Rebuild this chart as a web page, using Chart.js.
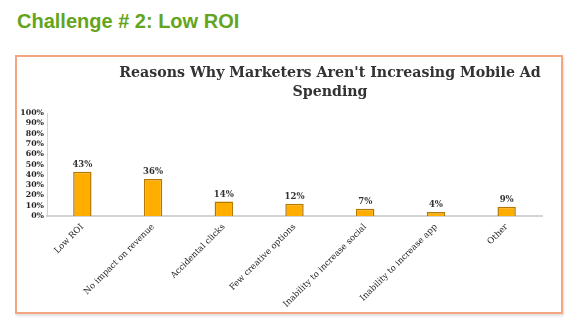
<!DOCTYPE html>
<html>
<head>
<meta charset="utf-8">
<script src="https://cdn.jsdelivr.net/npm/chart.js@4"></script>
<style>
  body { margin: 0; background: #fff; width: 580px; height: 331px; position: relative; overflow: hidden; }
  h1 {
    position: absolute; left: 17px; top: 10px; margin: 0;
    font: bold 20px "Liberation Sans", Arial, sans-serif; color: #63a51c;
  }
  .frame {
    position: absolute; left: 15px; top: 55px; width: 548px; height: 259px;
    box-sizing: border-box; border: 2px solid #f4a582;
    box-shadow: 1px 2px 2px rgba(0,0,0,0.12); background: #fff;
  }
  .frame canvas { position: absolute; left: 0; top: 0; }
  .chart-title {
    position: absolute; left: 83px; width: 460px; top: 6px;
    text-align: center; color: #333;
    font: bold 14.2px/19px "DejaVu Serif", Georgia, serif;
  }
</style>
</head>
<body>
<h1>Challenge # 2: Low ROI</h1>
<div class="frame">
  <canvas id="roiChart" width="544" height="255"></canvas>
  <div class="chart-title" id="chartTitle"></div>
</div>
<script>
let reasons = [
  "Low ROI",
  "No impact on revenue",
  "Accidental clicks",
  "Few creative options",
  "Inability to increase social",
  "Inability to increase app",
  "Other"
];
let shares = [43, 36, 14, 12, 7, 4, 9];
let titleLines = ["Reasons Why Marketers Aren't Increasing Mobile Ad", "Spending"];

document.getElementById("chartTitle").innerHTML = titleLines.join("<br>");

// writes the value above each bar
let valueLabels = {
  id: "valueLabels",
  afterDatasetsDraw(chart) {
    let ctx = chart.ctx;
    let meta = chart.getDatasetMeta(0);
    ctx.save();
    ctx.font = "bold 8.5px 'DejaVu Serif', serif";
    ctx.fillStyle = "#333";
    ctx.textAlign = "center";
    ctx.textBaseline = "bottom";
    meta.data.forEach((bar, i) => {
      ctx.fillText(shares[i] + "%", bar.x, bar.y - 3);
    });
    ctx.restore();
  }
};

showRoiChart();

function showRoiChart() {
  let context = document.getElementById("roiChart").getContext("2d");
  let myChart = new Chart(context, {
    type: "bar",
    data: {
      labels: reasons,
      datasets: [
        {
          data: shares,
          backgroundColor: "#ffae00",
          borderColor: "#b57800",
          borderWidth: 1.5,
          categoryPercentage: 1,
          barPercentage: 0.26
        }
      ]
    },
    options: {
      responsive: false,
      animation: false,
      layout: { padding: { left: 0, right: 19, top: 56 } },
      plugins: {
        legend: { display: false },
        tooltip: { enabled: false }
      },
      scales: {
        x: {
          grid: { display: false, drawTicks: false },
          border: { color: "#d4d4d4", width: 2 },
          ticks: {
            color: "#222",
            font: { family: "'DejaVu Serif', serif", size: 8.5 },
            minRotation: 45,
            maxRotation: 45,
            autoSkip: false,
            padding: 6
          },
          afterFit: s => { s.height = 96; }
        },
        y: {
          min: 0,
          max: 100,
          grid: { display: false, drawTicks: false },
          border: { color: "#d4d4d4", width: 1 },
          ticks: {
            stepSize: 10,
            autoSkip: false,
            color: "#222",
            font: { family: "'DejaVu Serif', serif", size: 7.8, weight: "bold" },
            padding: 3,
            callback: v => v + "%"
          },
          afterFit: s => { s.width = 30; }
        }
      }
    },
    plugins: [valueLabels]
  });
}
</script>
</body>
</html>
